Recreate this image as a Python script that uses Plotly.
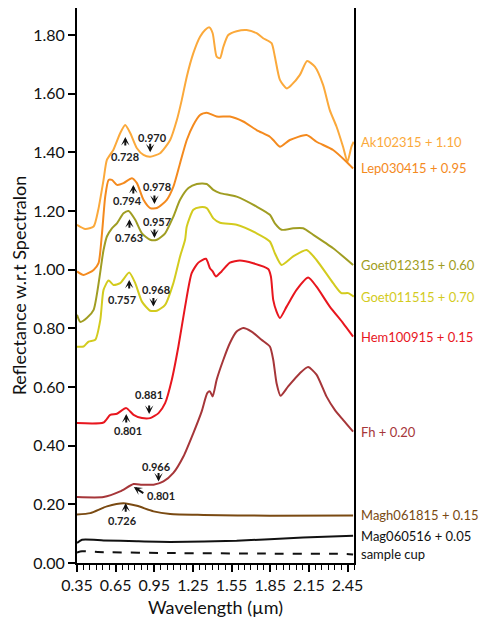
import plotly.graph_objects as go

# ---------------- data (wavelength in µm, reflectance) ----------------
ak_w = [0.35, 0.414, 0.479, 0.515, 0.556, 0.582, 0.633, 0.685, 0.724, 0.763, 0.815, 0.866, 0.918, 0.995, 1.073,
        1.125, 1.163, 1.202, 1.253, 1.305, 1.344, 1.377, 1.403, 1.434, 1.460, 1.486, 1.524, 1.589, 1.667, 1.744,
        1.795, 1.860, 1.886, 1.925, 1.977, 2.015, 2.080, 2.136, 2.196, 2.260, 2.312, 2.364, 2.415, 2.449, 2.480, 2.498]
ak_r = [1.153, 1.139, 1.147, 1.204, 1.306, 1.374, 1.409, 1.465, 1.493, 1.466, 1.414, 1.391, 1.385, 1.397, 1.442,
        1.510, 1.578, 1.658, 1.738, 1.794, 1.817, 1.826, 1.806, 1.726, 1.721, 1.760, 1.800, 1.813, 1.817, 1.806,
        1.789, 1.772, 1.726, 1.647, 1.618, 1.630, 1.664, 1.711, 1.692, 1.630, 1.544, 1.488, 1.419, 1.368, 1.419, 1.436]

lep_w = [0.35, 0.401, 0.479, 0.517, 0.544, 0.569, 0.595, 0.621, 0.660, 0.711, 0.776, 0.815, 0.866, 0.918, 0.970,
         1.047, 1.098, 1.150, 1.202, 1.253, 1.305, 1.357, 1.434, 1.537, 1.640, 1.744, 1.847, 1.873, 1.925, 2.002,
         2.132, 2.209, 2.338, 2.441, 2.493]
lep_r = [0.994, 0.982, 0.999, 1.022, 1.124, 1.249, 1.306, 1.306, 1.289, 1.295, 1.312, 1.295, 1.238, 1.210, 1.210,
         1.238, 1.283, 1.363, 1.442, 1.493, 1.527, 1.535, 1.522, 1.522, 1.505, 1.476, 1.453, 1.442, 1.419, 1.442,
         1.459, 1.436, 1.408, 1.368, 1.345]

goet1_w = [0.35, 0.376, 0.428, 0.479, 0.556, 0.582, 0.621, 0.660, 0.711, 0.750, 0.802, 0.854, 0.918, 0.970, 1.034,
           1.098, 1.150, 1.215, 1.280, 1.357, 1.408, 1.460, 1.589, 1.744, 1.847, 1.886, 1.938, 2.028, 2.105, 2.183,
           2.338, 2.493]
goet1_r = [0.846, 0.822, 0.836, 0.863, 1.067, 1.113, 1.141, 1.158, 1.192, 1.200, 1.170, 1.124, 1.102, 1.102, 1.124,
           1.181, 1.238, 1.278, 1.292, 1.292, 1.272, 1.261, 1.249, 1.215, 1.187, 1.158, 1.136, 1.141, 1.141, 1.119,
           1.073, 1.016]

goet2_w = [0.35, 0.401, 0.440, 0.492, 0.531, 0.556, 0.595, 0.633, 0.685, 0.755, 0.802, 0.854, 0.918, 0.970, 1.034,
           1.098, 1.150, 1.189, 1.202, 1.253, 1.305, 1.357, 1.408, 1.460, 1.589, 1.744, 1.847, 1.886, 1.938, 2.028,
           2.132, 2.209, 2.338, 2.402, 2.454, 2.498]
goet2_r = [0.737, 0.738, 0.755, 0.761, 0.829, 0.931, 0.963, 0.948, 0.954, 0.990, 0.954, 0.891, 0.860, 0.860, 0.880,
           0.954, 1.045, 1.102, 1.147, 1.204, 1.213, 1.210, 1.175, 1.160, 1.153, 1.124, 1.096, 1.056, 1.016, 1.045,
           1.067, 1.033, 0.954, 0.920, 0.920, 0.908]

hem_w = [0.35, 0.556, 0.608, 0.660, 0.732, 0.789, 0.854, 0.918, 0.983, 1.034, 1.086, 1.137, 1.189, 1.240, 1.292,
         1.351, 1.382, 1.403, 1.428, 1.472, 1.537, 1.614, 1.718, 1.834, 1.855, 1.873, 1.899, 1.925, 1.977, 2.054,
         2.144, 2.209, 2.312, 2.415, 2.493]
hem_r = [0.477, 0.479, 0.505, 0.509, 0.528, 0.505, 0.494, 0.494, 0.511, 0.545, 0.625, 0.738, 0.874, 0.988, 1.024,
         1.037, 1.005, 0.994, 0.977, 0.994, 1.024, 1.031, 1.022, 1.002, 0.977, 0.897, 0.857, 0.835, 0.874, 0.931,
         0.973, 0.942, 0.874, 0.818, 0.772]

fh_w = [0.35, 0.556, 0.685, 0.789, 0.854, 0.944, 1.021, 1.098, 1.176, 1.253, 1.318, 1.361, 1.382, 1.403, 1.434,
        1.486, 1.537, 1.589, 1.640, 1.705, 1.782, 1.847, 1.873, 1.899, 1.930, 1.989, 2.080, 2.144, 2.209, 2.286,
        2.351, 2.415, 2.493]
fh_r = [0.225, 0.225, 0.244, 0.269, 0.267, 0.267, 0.278, 0.307, 0.363, 0.443, 0.517, 0.579, 0.585, 0.568, 0.625,
        0.693, 0.750, 0.789, 0.801, 0.789, 0.761, 0.738, 0.693, 0.613, 0.570, 0.602, 0.647, 0.668, 0.642, 0.568,
        0.522, 0.488, 0.448]

magh_w = [0.35, 0.453, 0.582, 0.711, 0.815, 0.944, 1.073, 1.331, 1.847, 2.493]
magh_r = [0.165, 0.170, 0.193, 0.204, 0.195, 0.176, 0.167, 0.164, 0.161, 0.162]

mag_w = [0.35, 0.389, 0.556, 0.815, 1.073, 1.589, 2.105, 2.493]
mag_r = [0.068, 0.079, 0.077, 0.074, 0.072, 0.076, 0.087, 0.093]

cup_w = [0.35, 0.389, 0.556, 1.073, 1.847, 2.441, 2.493]
cup_r = [0.036, 0.040, 0.037, 0.034, 0.032, 0.031, 0.029]

series_names = ["Ak102315 + 1.10", "Lep030415 + 0.95", "Goet012315 + 0.60", "Goet011515 + 0.70",
                "Hem100915 + 0.15", "Fh + 0.20", "Magh061815 + 0.15", "Mag060516 + 0.05", "sample cup"]
series_w = [ak_w, lep_w, goet1_w, goet2_w, hem_w, fh_w, magh_w, mag_w, cup_w]
series_r = [ak_r, lep_r, goet1_r, goet2_r, hem_r, fh_r, magh_r, mag_r, cup_r]
series_colors = ["#FBA93B", "#F48A1E", "#A09D22", "#D3CB1E", "#E8161E", "#A63639", "#7A4A12", "#111111", "#111111"]
series_dash = ["solid"] * 8 + ["dash"]

# band labels and arrow tips (wavelength, reflectance)
band_text = ["0.728", "0.970", "0.794", "0.978", "0.763", "0.957", "0.757", "0.968",
             "0.801", "0.881", "0.966", "0.801", "0.726"]
band_text_w = [0.725, 0.939, 0.742, 0.970, 0.750, 0.970, 0.699, 0.962, 0.742, 0.910, 0.970, 1.001, 0.703]
band_text_r = [1.385, 1.450, 1.236, 1.283, 1.109, 1.164, 0.897, 0.934, 0.452, 0.574, 0.329, 0.229, 0.144]
arrow_w = [0.725, 0.918, 0.787, 0.951, 0.757, 0.951, 0.755, 0.943, 0.732, 0.910, 0.983, 0.791, 0.728]
arrow_r = [1.452, 1.400, 1.289, 1.224, 1.172, 1.108, 0.965, 0.874, 0.508, 0.508, 0.278, 0.259, 0.204]
arrow_dir = ["up", "down", "up", "down", "up", "down", "up", "down", "up", "down", "down", "diag", "up"]

FONT = "Lato, 'Open Sans', sans-serif"

fig = go.Figure()
for name, w, r, c, d in zip(series_names, series_w, series_r, series_colors, series_dash):
    fig.add_trace(go.Scatter(x=w, y=r, mode="lines", name=name,
                             line=dict(color=c, width=2, dash=d, shape="spline", smoothing=0.6),
                             showlegend=False, hoverinfo="skip"))

annotations = []
for name, w, r, c in zip(series_names, series_w, series_r, series_colors):
    annotations.append(dict(x=1, xref="paper", xanchor="left", xshift=5, y=r[-1], yref="y",
                            text=name, showarrow=False, font=dict(family=FONT, size=13, color=c)))

for t, tw, tr in zip(band_text, band_text_w, band_text_r):
    annotations.append(dict(x=tw, y=tr, xref="x", yref="y", text="<b>" + t + "</b>", showarrow=False,
                            font=dict(family=FONT, size=11, color="#222222")))

for aw, ar, ad in zip(arrow_w, arrow_r, arrow_dir):
    if ad == "up":
        ax, ay = 0, 10
    elif ad == "down":
        ax, ay = 0, -10
    else:
        ax, ay = 11, 7
    annotations.append(dict(x=aw, y=ar, xref="x", yref="y", ax=ax, ay=ay, text="", showarrow=True,
                            arrowhead=3, arrowsize=0.7, arrowwidth=2, arrowcolor="#111111", standoff=0))

# the page adds an 8px body margin on every side, so the figure is sized 482x612
fig.update_layout(
    width=482, height=612,
    margin=dict(l=69, r=136, t=0, b=57, autoexpand=False),
    paper_bgcolor="white", plot_bgcolor="white",
    font=dict(family=FONT, size=16, color="#111111"),
    annotations=annotations,
    xaxis=dict(range=[0.35, 2.50], tick0=0.35, dtick=0.3, tickformat=".2f", automargin=False,
               showline=True, linecolor="black", linewidth=2, mirror=True,
               ticks="outside", ticklen=7, tickwidth=1.5, tickcolor="black",
               minor=dict(tick0=0.35, dtick=0.05, ticks="outside", ticklen=5, tickwidth=1.2, tickcolor="black"),
               showgrid=False, zeroline=False,
               title=dict(text="Wavelength (µm)", font=dict(size=18), standoff=8),
               tickfont=dict(size=16)),
    yaxis=dict(range=[0, 1.892], tick0=0, dtick=0.2, tickformat=".2f", automargin=False,
               showline=True, linecolor="black", linewidth=2, mirror=True,
               ticks="outside", ticklen=7, tickwidth=1.5, tickcolor="black",
               showgrid=False, zeroline=False,
               title=dict(text="Reflectance w.r.t Spectralon", font=dict(size=18), standoff=6),
               tickfont=dict(size=16)),
)

fig.write_html("out.html")
